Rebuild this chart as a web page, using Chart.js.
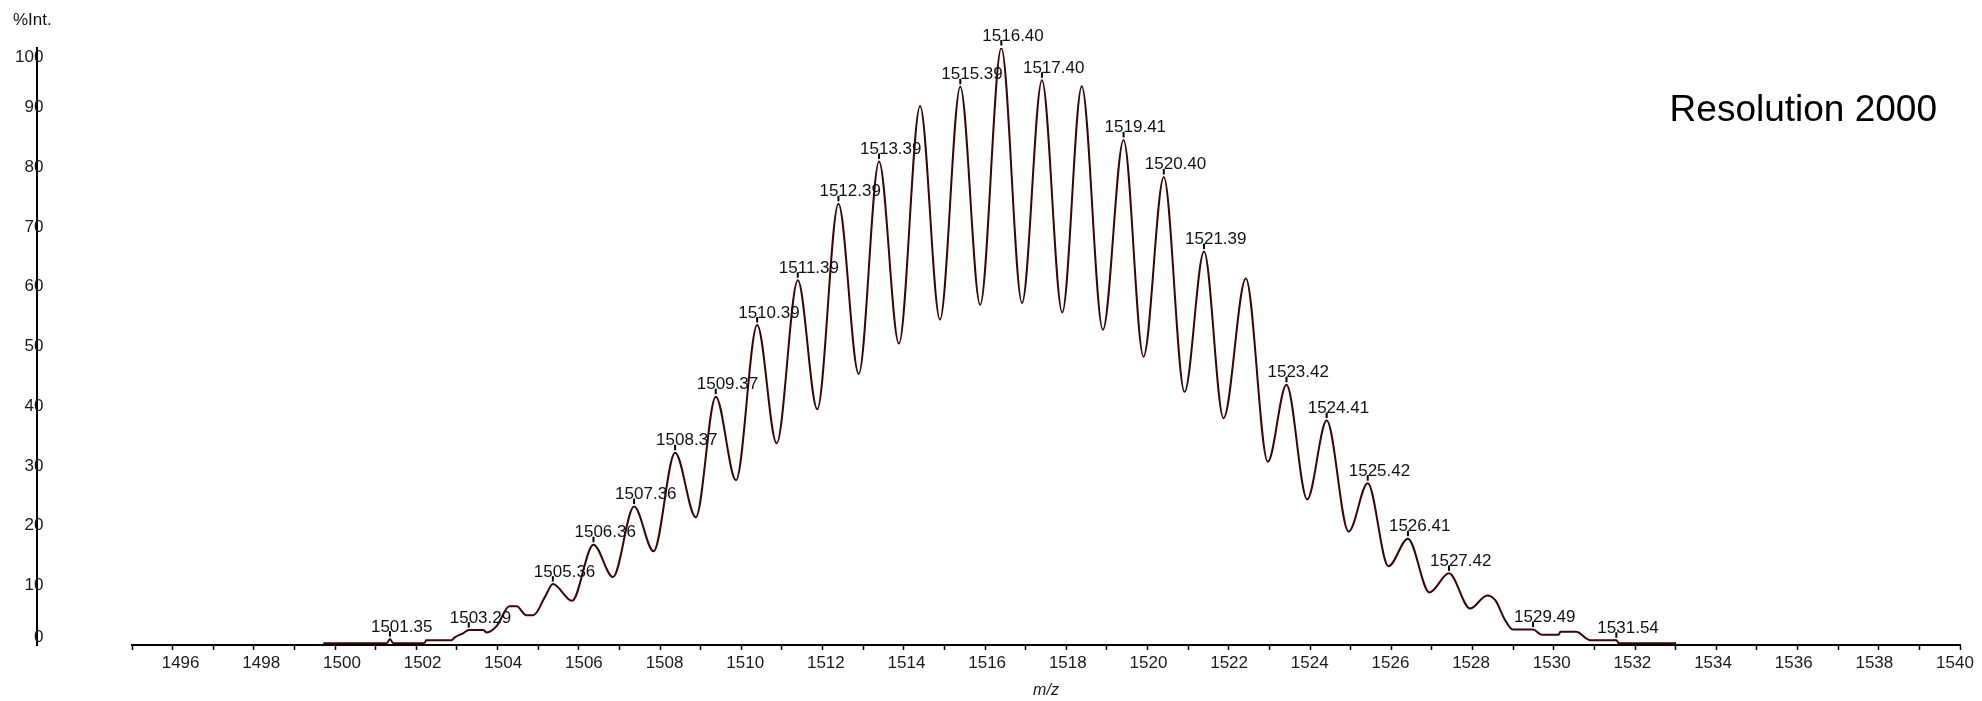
<!DOCTYPE html>
<html>
<head>
<meta charset="utf-8">
<title>Mass spectrum – Resolution 2000</title>
<script src="https://cdn.jsdelivr.net/npm/chart.js@4/dist/chart.umd.min.js"></script>
<style>
  html, body { margin: 0; padding: 0; background: #fff; }
  #wrap { position: relative; width: 1982px; height: 701px; }
  canvas { display: block; }
  .note { position: absolute; font-family: "Liberation Sans", Arial, sans-serif; color: #111; white-space: nowrap; }
  #yunit { left: 13px; top: 10px; font-size: 17px; line-height: 20px; }
  #res { right: 45px; top: 89px; font-size: 37px; line-height: 40px; color: #000; }
</style>
</head>
<body>
<div id="wrap">
  <canvas id="c" width="1982" height="701"></canvas>
  <div class="note" id="yunit">%Int.</div>
  <div class="note" id="res">Resolution 2000</div>
</div>
<script>
// Profile spectrum: m/z positions and relative intensity (%)
const mz = [
  1499.71, 1501.27, 1501.35, 1501.43, 1502.20, 1502.24, 1502.87, 1502.93, 1503.16, 1503.29,
  1503.65, 1503.73, 1503.98, 1504.29, 1504.47, 1504.70, 1504.88, 1505.17, 1505.36, 1505.83,
  1506.36, 1506.84, 1507.36, 1507.84, 1508.37, 1508.88, 1509.37, 1509.87, 1510.39, 1510.87,
  1511.39, 1511.87, 1512.39, 1512.89, 1513.39, 1513.88, 1514.40, 1514.89, 1515.39, 1515.88,
  1516.40, 1516.91, 1517.40, 1517.90, 1518.38, 1518.90, 1519.41, 1519.90, 1520.40, 1520.91,
  1521.39, 1521.87, 1522.42, 1522.96, 1523.42, 1523.93, 1524.41, 1524.95, 1525.42, 1525.93,
  1526.41, 1526.94, 1527.42, 1527.94, 1528.36, 1528.56, 1528.80, 1528.99, 1529.49, 1529.71,
  1530.12, 1530.16, 1530.55, 1530.90, 1531.54, 1531.60, 1533.01
];
const intensity = [
  0.3, 0.3, 1.0, 0.3, 0.3, 0.8, 0.8, 1.2, 2.0, 2.5,
  2.5, 2.1, 3.2, 6.5, 6.5, 5.0, 5.0, 8.1, 10.2, 7.4,
  16.8, 11.4, 23.2, 15.7, 32.2, 21.4, 41.6, 27.6, 53.6, 33.8,
  61.1, 39.5, 73.9, 45.4, 81.0, 50.5, 90.3, 54.5, 93.5, 57.0,
  100.0, 57.3, 94.6, 55.7, 93.6, 52.8, 84.6, 48.3, 78.4, 42.4,
  65.9, 38.0, 61.4, 30.7, 43.6, 24.4, 37.6, 19.0, 27.1, 13.2,
  17.8, 8.8, 12.0, 6.1, 8.3, 7.5, 4.2, 2.6, 2.6, 1.7,
  1.7, 2.2, 2.2, 0.8, 0.8, 0.3, 0.3
];
// Annotated peak centroids
const peakLabels = [
  1501.35, 1503.29, 1505.36, 1506.36, 1507.36, 1508.37, 1509.37, 1510.39, 1511.39, 1512.39,
  1513.39, 1515.39, 1516.40, 1517.40, 1519.41, 1520.40, 1521.39, 1523.42, 1524.41, 1525.42,
  1526.41, 1527.42, 1529.49, 1531.54
];
// Axis ranges and tick settings
const xRange = [1495, 1540];
const yRange = [0, 100];
const xTickStep = 1;
const yTickStep = 10;
const yAxisAt = 1492.66;      // m/z where the intensity axis line stands
const yLabelsAt = 1492.82;    // m/z where the intensity tick labels end

const points = mz.map((m, i) => ({ x: m, y: intensity[i] }));

const FONT = '"Liberation Sans", Arial, sans-serif';

// Draws the centroid labels with a short marker above each labelled peak
const peakLabelPlugin = {
  id: 'peakLabels',
  afterDatasetsDraw(chart) {
    const { ctx, scales: { x, y } } = chart;
    ctx.save();
    ctx.font = '17px ' + FONT;
    ctx.fillStyle = '#111';
    ctx.strokeStyle = '#000';
    ctx.lineWidth = 2;
    ctx.textAlign = 'left';
    ctx.textBaseline = 'alphabetic';
    peakLabels.forEach(v => {
      const idx = mz.indexOf(v);
      if (idx < 0) return;
      const px = x.getPixelForValue(v);
      const py = y.getPixelForValue(intensity[idx]);
      ctx.beginPath();
      ctx.moveTo(px, py - 2.5);
      ctx.lineTo(px, py - 8);
      ctx.stroke();
      ctx.fillText(v.toFixed(2), px - 19, py - 7.5);
    });
    ctx.restore();
  }
};

// Tick label placement: end labels of the intensity axis are kept inside
// the axis span, and m/z labels sit slightly right of their tick at the low end.
const tickLabelPlacement = {
  id: 'tickLabelPlacement',
  beforeDraw(chart) {
    const area = chart.chartArea;
    const xs = chart.scales.x;
    const ys = chart.scales.yLabels;
    if (xs && typeof xs._computeLabelItems === 'function') {
      const items = xs._computeLabelItems(area);
      items.forEach(it => {
        const v = parseFloat(it.label);
        if (!isFinite(v) || !it.options || !it.options.translation) return;
        it.options.translation[0] = xs.getPixelForValue(v) + 8 - 13 * (v - 1496) / 44;
      });
      xs._labelItems = items;
    }
    if (ys && typeof ys._computeLabelItems === 'function') {
      const items = ys._computeLabelItems(area);
      items.forEach(it => {
        if (!it.options || !it.options.translation) return;
        if (it.label === String(yRange[1])) it.options.translation[1] += 9;
        if (it.label === String(yRange[0])) it.options.translation[1] -= 8;
      });
      ys._labelItems = items;
    }
  }
};

new Chart(document.getElementById('c'), {
  type: 'line',
  data: {
    datasets: [{
      data: points,
      borderColor: '#3a0505',
      borderWidth: 2,
      pointRadius: 0,
      fill: false,
      cubicInterpolationMode: 'monotone'
    }]
  },
  options: {
    responsive: false,
    animation: false,
    devicePixelRatio: 1,
    layout: { padding: { left: 132, right: 22, top: 48, bottom: 0 } },
    plugins: { legend: { display: false }, tooltip: { enabled: false }, title: { display: false } },
    scales: {
      x: {
        type: 'linear',
        position: 'bottom',
        min: xRange[0],
        max: xRange[1],
        afterFit(scale) { scale.height = 56; },
        border: { display: true, color: '#000', width: 2 },
        grid: { display: true, drawOnChartArea: false, drawTicks: true, tickLength: 5, tickWidth: 1.5, tickColor: '#000' },
        ticks: {
          stepSize: xTickStep,
          autoSkip: false,
          maxRotation: 0,
          padding: 3,
          color: '#1a1a1a',
          font: { family: FONT, size: 17 },
          callback: v => (v % 2 === 0 ? String(v) : '')
        },
        title: {
          display: true,
          text: 'm/z',
          color: '#1a1a1a',
          font: { family: FONT, size: 16, style: 'italic' },
          padding: { top: 0, bottom: 1 }
        }
      },
      y: {
        type: 'linear',
        position: { x: yAxisAt },
        min: yRange[0],
        max: yRange[1],
        border: { display: true, color: '#000', width: 2 },
        grid: { display: true, drawOnChartArea: false, drawTicks: false },
        ticks: { display: false, stepSize: yTickStep }
      },
      yLabels: {
        type: 'linear',
        axis: 'y',
        position: { x: yLabelsAt },
        min: yRange[0],
        max: yRange[1],
        border: { display: false },
        grid: { display: true, drawOnChartArea: false, drawTicks: false },
        ticks: {
          stepSize: yTickStep,
          color: '#1a1a1a',
          font: { family: FONT, size: 17 }
        }
      }
    }
  },
  plugins: [peakLabelPlugin, tickLabelPlacement]
});
</script>
</body>
</html>
